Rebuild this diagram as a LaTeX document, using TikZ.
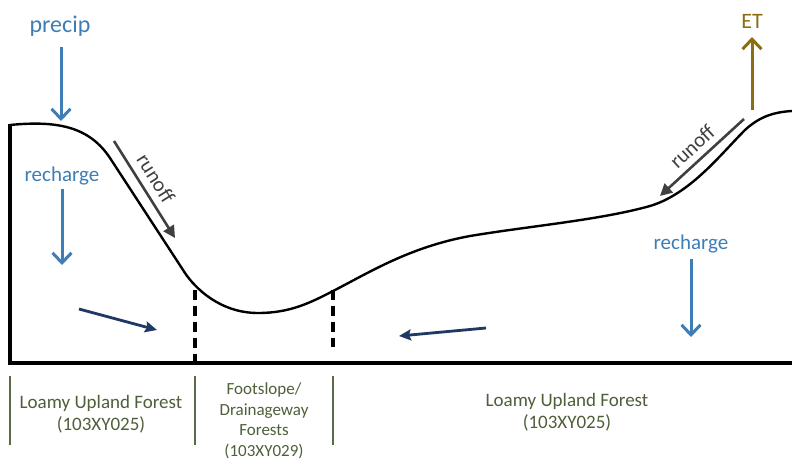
\documentclass[tikz,border=0pt]{standalone}
\usepackage{fontspec}
\setmainfont{Carlito}
\usetikzlibrary{arrows.meta}
\definecolor{flowblue}{HTML}{3E7DB5}
\definecolor{navy}{HTML}{1F3864}
\definecolor{rungray}{HTML}{404040}
\definecolor{etgold}{HTML}{8C6D14}
\definecolor{lblgreen}{HTML}{4F5F3A}
\definecolor{sepgreen}{HTML}{5A6B48}
\tikzset{
  bluearrow/.style={draw=flowblue, line width=3pt, -{Straight Barb[length=10pt,width=19pt,line width=3pt]}},
  etarrow/.style={draw=etgold, line width=3pt, -{Straight Barb[length=10pt,width=19pt,line width=3pt]}},
  navyarrow/.style={draw=navy, line width=2.8pt, -{Stealth[length=12pt,width=11pt,inset=2pt]}},
  runarrow/.style={draw=rungray, line width=2.6pt, -{Triangle[length=12pt,width=12pt]}},
  bluetxt/.style={text=flowblue, font=\fontsize{21}{24}\selectfont, inner sep=0pt},
  runtxt/.style={text=rungray, font=\fontsize{21}{24}\selectfont, inner sep=0pt},
  lbl/.style={text=lblgreen, align=center, inner sep=0pt},
  sep/.style={draw=sepgreen, line width=2.4pt},
  divider/.style={draw=black, line width=3.2pt, dash pattern=on 10pt off 6pt},
  axis/.style={draw=black, line width=3.4pt},
  terrain/.style={draw=black, line width=2.4pt}
}
\begin{document}
\begin{tikzpicture}[x=1pt,y=-1pt]
\useasboundingbox[fill=white] (0,0) rectangle (792,461);
% axes
\coordinate (ltop) at (10,124);
\coordinate (origin) at (10,363);
\coordinate (rbot) at (792,363);
\draw[axis] (ltop) -- (origin) -- (rbot);
% terrain
\draw[terrain] (10,125) .. controls (60,120) and (90,128) .. (110,158)
  -- (185,273) .. controls (195,288) and (220,313) .. (258,313)
  .. controls (290,313) and (310,303) .. (335,290)
  .. controls (370,272) and (410,247) .. (470,236)
  .. controls (530,226) and (600,220) .. (650,206)
  .. controls (690,194) and (720,155) .. (745,130)
  .. controls (760,116) and (775,112) .. (792,111);
% dashed dividers
\coordinate (d1t) at (195,290); \coordinate (d1b) at (195,363);
\coordinate (d2t) at (333,290); \coordinate (d2b) at (333,347);
\draw[divider] (d1t) -- (d1b);
\draw[divider] (d2t) -- (d2b);
% precip
\node[bluetxt, font=\fontsize{24}{28}\selectfont] (precip) at (60,26) {precip};
\coordinate (ps) at (61,47); \coordinate (pe) at (61,121);
\draw[bluearrow] (ps) -- (pe);
% left recharge
\node[bluetxt] (rechL) at (62,176) {recharge};
\coordinate (rls) at (62,189); \coordinate (rle) at (62,265);
\draw[bluearrow] (rls) -- (rle);
% right recharge
\node[bluetxt] (rechR) at (691,244) {recharge};
\coordinate (rrs) at (691,259); \coordinate (rre) at (691,337);
\draw[bluearrow] (rrs) -- (rre);
% ET
\node[text=etgold, font=\fontsize{22}{26}\selectfont, inner sep=0pt] (et) at (752,21) {ET};
\coordinate (es) at (752,110); \coordinate (ee) at (752,37);
\draw[etarrow] (es) -- (ee);
% runoff left
\coordinate (r1s) at (114,141); \coordinate (r1e) at (175,238);
\draw[runarrow] (r1s) -- node[runtxt, sloped, above=7pt, pos=0.47] (runL) {runoff} (r1e);
% runoff right
\coordinate (r2s) at (744,119); \coordinate (r2e) at (660,196);
\draw[runarrow] (r2s) -- node[runtxt, sloped, above=6pt, pos=0.5] (runR) {runoff} (r2e);
% groundwater arrows
\coordinate (g1s) at (79,309); \coordinate (g1e) at (157,330);
\draw[navyarrow] (g1s) -- (g1e);
\coordinate (g2s) at (486,328); \coordinate (g2e) at (399,336);
\draw[navyarrow] (g2s) -- (g2e);
% separators
\coordinate (s1t) at (10,376); \coordinate (s1b) at (10,445);
\coordinate (s2t) at (195,376); \coordinate (s2b) at (195,445);
\coordinate (s3t) at (333,376); \coordinate (s3b) at (333,445);
\draw[sep] (s1t) -- (s1b);
\draw[sep] (s2t) -- (s2b);
\draw[sep] (s3t) -- (s3b);
% labels
\node[lbl, font=\fontsize{19}{22}\selectfont] (lab1) at (101,414) {Loamy Upland Forest\\(103XY025)};
\node[lbl, font=\fontsize{17}{20.5}\selectfont] (lab2) at (264,421) {Footslope/\\Drainageway\\Forests\\(103XY029)};
\node[lbl, font=\fontsize{19}{22}\selectfont] (lab3) at (567,412) {Loamy Upland Forest\\(103XY025)};
\end{tikzpicture}
\end{document}
